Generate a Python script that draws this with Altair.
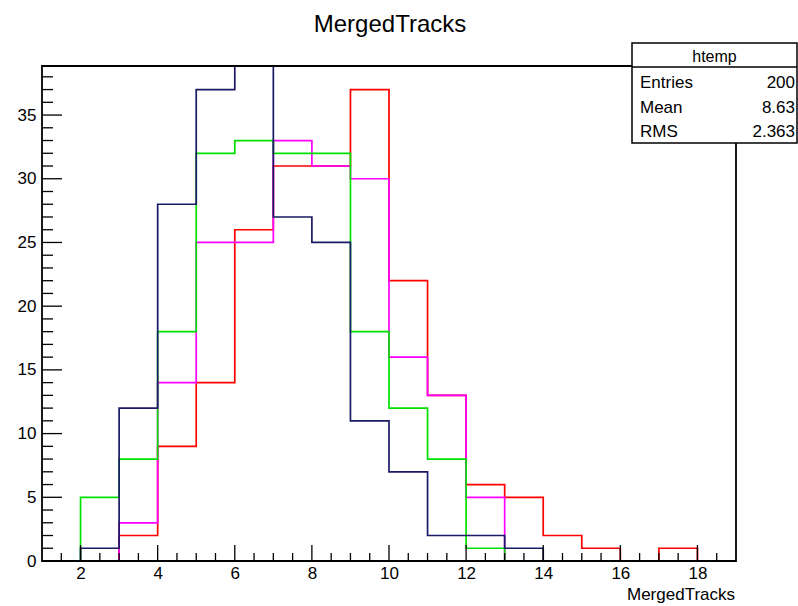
import altair as alt
import pandas as pd

# ---- data -------------------------------------------------------------
bin_edges = list(range(1, 20))  # 1 .. 19
# counts per bin, bins [1,2), [2,3), ... [18,19)
red = [0, 0, 2, 9, 14, 26, 31, 31, 37, 22, 13, 6, 5, 2, 1, 0, 1, 0]
magenta = [0, 0, 3, 14, 25, 25, 33, 31, 30, 16, 13, 5, 0, 0, 0, 0, 0, 0]
green = [0, 5, 8, 18, 32, 33, 32, 32, 18, 12, 8, 1, 0, 0, 0, 0, 0, 0]
blue = [0, 1, 12, 28, 37, 47, 27, 25, 11, 7, 2, 2, 1, 0, 0, 0, 0, 0]

series_names = ["red", "magenta", "green", "blue"]
series_values = [red, magenta, green, blue]
series_colors = ["#ff0000", "#ff00ff", "#00e000", "#1a1a66"]

x_labels = [2, 4, 6, 8, 10, 12, 14, 16, 18]
y_labels = [0, 5, 10, 15, 20, 25, 30, 35]
x_major = [2, 4, 6, 8, 10, 12, 14, 16, 18]
x_minor = [v / 2 for v in range(3, 38) if (v / 2) not in x_major]
y_major = [0, 5, 10, 15, 20, 25, 30, 35]
y_minor = [v for v in range(1, 39) if v not in y_major]

stats_title = "htemp"
stats_names = ["Entries", "Mean", "RMS"]
stats_vals = ["200", "8.63", "2.363"]

X_DOMAIN = [1, 19]
Y_DOMAIN = [0, 38.85]
W, H = 694, 495
FONT = "Liberation Sans"

xs = alt.Scale(domain=X_DOMAIN, nice=False, zero=False)
ys = alt.Scale(domain=Y_DOMAIN, nice=False)

x_axis = alt.Axis(values=x_labels, ticks=False, tickSize=0, domain=False,
                  grid=False, title=None, labelFontSize=17, labelFont=FONT,
                  labelColor="#000000", labelPadding=4, format="d")
y_axis = alt.Axis(values=y_labels, ticks=False, tickSize=0, domain=False,
                  grid=False, title=None, labelFontSize=17, labelFont=FONT,
                  labelColor="#000000", labelPadding=6, format="d")

# one layer per histogram, drawn in ROOT order (first drawn at the bottom)
line_layers = []
for name, vals, col in zip(series_names, series_values, series_colors):
    d = pd.DataFrame({
        "edge": bin_edges,
        "count": vals + [vals[-1]],
    })
    line_layers.append(
        alt.Chart(d).mark_line(interpolate="step-after", strokeWidth=1.7, clip=True,
                               color=col).encode(
            x=alt.X("edge:Q", scale=xs, axis=x_axis),
            y=alt.Y("count:Q", scale=ys, axis=y_axis),
            order=alt.Order("edge:Q"))
    )

xmaj = alt.Chart(pd.DataFrame({"edge": x_major})).mark_rule(color="black", strokeWidth=1.3).encode(
    x=alt.X("edge:Q", scale=xs, axis=x_axis), y=alt.value(H), y2=alt.value(H - 16))
xmin = alt.Chart(pd.DataFrame({"edge": x_minor})).mark_rule(color="black", strokeWidth=1.3).encode(
    x=alt.X("edge:Q", scale=xs, axis=x_axis), y=alt.value(H), y2=alt.value(H - 8))
ymaj = alt.Chart(pd.DataFrame({"count": y_major})).mark_rule(color="black", strokeWidth=1.3).encode(
    y=alt.Y("count:Q", scale=ys, axis=y_axis), x=alt.value(0), x2=alt.value(20))
ymin = alt.Chart(pd.DataFrame({"count": y_minor})).mark_rule(color="black", strokeWidth=1.3).encode(
    y=alt.Y("count:Q", scale=ys, axis=y_axis), x=alt.value(0), x2=alt.value(11))

one = pd.DataFrame({"a": [0]})
frame = alt.Chart(one).mark_rect(fill=None, stroke="black", strokeWidth=1.8).encode(
    x=alt.value(0), x2=alt.value(W), y=alt.value(0), y2=alt.value(H))

# stats box (pixel positions relative to plot origin)
BX0, BX1, BY0, BY1 = 590, 755, -23, 77
box = alt.Chart(one).mark_rect(fill="white", stroke="black", strokeWidth=1.5).encode(
    x=alt.value(BX0), x2=alt.value(BX1), y=alt.value(BY0), y2=alt.value(BY1))
box_sep = alt.Chart(one).mark_rule(color="black", strokeWidth=1.3).encode(
    x=alt.value(BX0), x2=alt.value(BX1), y=alt.value(1))
box_title = alt.Chart(pd.DataFrame({"t": [stats_title]})).mark_text(
    font=FONT, fontSize=16, align="center", baseline="middle", color="black").encode(
    text="t:N", x=alt.value((BX0 + BX1) / 2), y=alt.value(-9))

row_ys = [17, 42, 66]
stat_layers = []
for i, (n, v) in enumerate(zip(stats_names, stats_vals)):
    d = pd.DataFrame({"name": [n], "val": [v]})
    stat_layers.append(alt.Chart(d).mark_text(
        font=FONT, fontSize=17, align="left", baseline="middle", color="black").encode(
        text="name:N", x=alt.value(BX0 + 8), y=alt.value(row_ys[i])))
    stat_layers.append(alt.Chart(d).mark_text(
        font=FONT, fontSize=17, align="right", baseline="middle", color="black").encode(
        text="val:N", x=alt.value(BX1 - 2), y=alt.value(row_ys[i])))

title_txt = alt.Chart(pd.DataFrame({"t": ["MergedTracks"]})).mark_text(
    font=FONT, fontSize=24, align="center", baseline="alphabetic", color="black").encode(
    text="t:N", x=alt.value(W / 2 + 1), y=alt.value(-34))
xtitle_txt = alt.Chart(pd.DataFrame({"t": ["MergedTracks"]})).mark_text(
    font=FONT, fontSize=17, align="right", baseline="alphabetic", color="black").encode(
    text="t:N", x=alt.value(W - 1), y=alt.value(H + 39))

chart = alt.layer(
    *line_layers, xmaj, xmin, ymaj, ymin, frame, box, box_sep, box_title, *stat_layers,
    title_txt, xtitle_txt,
).properties(
    width=W, height=H,
    autosize=alt.AutoSizeParams(type="none"),
    padding={"left": 42, "top": 66, "right": 62, "bottom": 45},
    background="white",
).configure_view(stroke=None)

chart.save("out.html", embed_options={"renderer": "svg", "actions": False})
